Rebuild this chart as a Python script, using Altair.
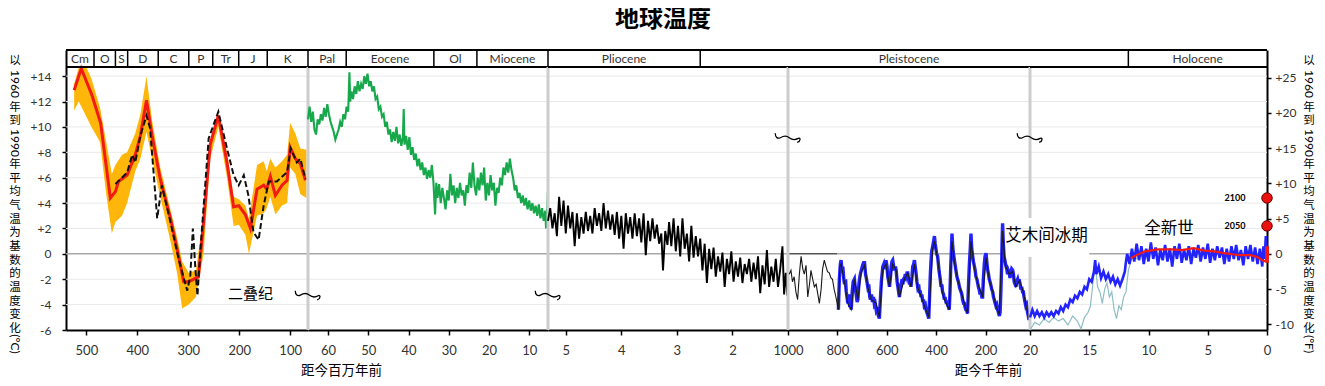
import altair as alt
import pandas as pd

CJK = "Noto Sans CJK SC"
LAT = "Lato"

# ------------------------------------------------------------------ data
# Panel 1 : 540 - 65 million years ago (Ma)
P1_RED_MA = [524, 510, 502, 489, 479, 472, 453, 443, 437, 420, 404, 394, 382, 371, 355, 335, 322, 309, 299,
             280, 270, 257, 241, 224, 211, 201, 188, 178, 165, 152, 146, 139, 129, 116, 106, 100, 90, 80, 70]
P1_RED_T = [12.9, 14.6, 13.8, 12.5, 11.2, 10.3, 4.4, 4.9, 5.7, 6.2, 7.8, 9.3, 12.1, 9.3, 5.9, 2.8, 0.4, -2.2, -2.2,
            -1.8, 2.5, 8.6, 10.9, 7.2, 3.7, 3.8, 3.1, 2.0, 5.1, 5.4, 5.1, 6.1, 4.6, 5.4, 5.8, 8.4, 7.5, 7.1, 5.8]

P1_BAND_MA = [524, 515, 510, 500, 490, 473, 462, 450, 443, 430, 420, 404, 394, 382, 371, 355, 335, 322, 312, 299,
              285, 270, 257, 241, 224, 211, 201, 188, 181, 165, 152, 146, 139, 129, 116, 106, 100, 90, 80, 68]
P1_BAND_HI = [13.4, 14.7, 14.7, 14.7, 13.8, 11.5, 9.0, 6.3, 7.0, 7.8, 8.0, 9.5, 11.0, 14.0, 10.5, 6.8, 3.5, 1.3, -0.6, -1.5,
              -1.3, 3.0, 9.0, 11.0, 8.0, 4.5, 4.3, 3.8, 2.8, 7.0, 7.3, 6.5, 7.5, 6.8, 7.3, 7.8, 10.3, 9.5, 8.3, 8.2]
P1_BAND_LO = [11.3, 12.0, 11.6, 10.8, 10.0, 8.8, 5.0, 1.6, 2.5, 3.0, 4.0, 6.5, 7.5, 9.6, 7.5, 4.5, 1.0, -1.5, -4.3, -4.0,
              -3.4, 0.0, 7.5, 10.0, 6.0, 2.2, 2.3, 1.5, 0.0, 3.0, 3.2, 3.6, 4.5, 3.1, 3.8, 4.0, 6.8, 6.3, 4.7, 4.4]

P1_DASH_MA = [443, 420, 410, 404, 394, 382, 375, 361, 352, 335, 319, 302, 296, 291, 286, 282, 276, 260, 241, 224,
              211, 201, 191, 182, 172, 162, 152, 142, 126, 106, 99, 87, 80, 70]
P1_DASH_T = [5.5, 6.4, 7.8, 7.2, 9.3, 10.9, 9.9, 2.8, 5.4, 2.5, -0.4, -2.9, -1.7, 2.0, -1.2, -3.3, 0.4, 9.1, 11.2, 8.3,
             6.2, 5.4, 6.2, 4.6, 1.7, 1.1, 3.8, 5.7, 5.7, 6.45, 8.3, 7.2, 7.5, 5.9]

# Panel 2 : 65 - 5.3 Ma
P2_GREEN_MA = [65.0, 64.6, 64.2, 63.8, 63.4, 63.0, 62.6, 62.2, 61.8, 61.4,
               61.0, 60.6, 60.2, 59.8, 59.4, 59.0, 58.6, 58.2, 57.8, 57.4,
               57.0, 56.6, 56.2, 55.8, 55.4, 55.0, 54.7, 54.5, 54.2, 53.8,
               53.4, 53.0, 52.6, 52.2, 51.8, 51.4, 51.0, 50.6, 50.2, 49.8,
               49.4, 49.0, 48.6, 48.2, 47.8, 47.4, 47.0, 46.6, 46.2, 45.8,
               45.4, 45.0, 44.6, 44.2, 43.8, 43.4, 43.0, 42.6, 42.2, 41.8,
               41.4, 41.2, 41.0, 40.6, 40.2, 39.8, 39.4, 39.0, 38.6, 38.2,
               37.8, 37.4, 37.0, 36.6, 36.2, 35.8, 35.4, 35.0, 34.6, 34.2,
               33.8, 33.4, 33.1, 32.8, 32.4, 32.0, 31.6, 31.2, 30.8, 30.4,
               30.0, 29.6, 29.2, 28.8, 28.4, 28.0, 27.6, 27.2, 26.8, 26.4,
               26.0, 25.6, 25.2, 24.8, 24.4, 24.0, 23.6, 23.2, 22.8, 22.4,
               22.0, 21.6, 21.2, 20.8, 20.4, 20.0, 19.6, 19.2, 18.8, 18.4,
               18.0, 17.6, 17.2, 16.8, 16.4, 16.0, 15.6, 15.2, 14.8, 14.4,
               14.0, 13.6, 13.2, 12.8, 12.4, 12.0, 11.6, 11.2, 10.8, 10.4,
               10.0, 9.6, 9.2, 8.8, 8.4, 8.0, 7.6, 7.2, 6.8, 6.4,
               6.0, 5.8, 5.5, 5.35]
P2_GREEN_T = [10.6, 11.6, 10.4, 11.2, 9.8, 9.4, 10.6, 10.2, 11.0, 10.5,
              11.5, 10.8, 11.8, 11.0, 10.4, 10.0, 9.6, 9.0, 9.4, 9.8,
              10.4, 10.0, 11.0, 10.6, 11.6, 11.2, 14.3, 12.0, 12.8, 12.2,
              13.2, 12.6, 13.6, 12.8, 13.4, 13.0, 14.0, 13.4, 14.2, 13.2,
              13.6, 12.8, 13.2, 12.2, 12.4, 11.4, 11.6, 10.8, 11.0, 10.0,
              10.4, 9.4, 9.8, 8.8, 9.6, 8.9, 10.0, 8.7, 9.4, 8.5,
              9.2, 11.4, 8.6, 9.3, 8.2, 9.2, 7.8, 8.4, 7.4, 7.9,
              6.9, 7.5, 6.6, 7.2, 6.2, 6.8, 5.9, 6.6, 6.0, 7.0,
              5.6, 3.1, 5.6, 4.4, 5.5, 4.0, 5.2, 4.4, 3.5, 5.0,
              4.2, 6.3, 4.6, 5.4, 4.0, 5.2, 4.4, 5.6, 4.6, 5.0,
              3.8, 5.4, 4.8, 6.4, 5.2, 7.2, 5.4, 4.6, 6.0, 5.0,
              6.4, 5.4, 6.8, 4.2, 5.6, 4.6, 6.2, 5.0, 5.6, 3.8,
              5.2, 4.8, 6.0, 5.4, 6.8, 6.2, 7.2, 6.4, 7.5, 6.6,
              6.0, 5.0, 5.4, 4.4, 4.8, 4.0, 4.6, 3.8, 4.4, 3.5,
              4.2, 3.4, 4.0, 3.2, 3.8, 3.0, 3.9, 2.8, 3.6, 2.6,
              3.4, 2.0, 3.5, 4.9]

# Panel 3 : 5.3 - 1.0 Ma
P3_BLACK_MA = [5.32, 5.28, 5.24, 5.20, 5.16, 5.12, 5.08, 5.04, 5.00, 4.96,
               4.92, 4.88, 4.84, 4.80, 4.76, 4.72, 4.68, 4.64, 4.60, 4.56,
               4.52, 4.48, 4.44, 4.40, 4.36, 4.32, 4.28, 4.24, 4.20, 4.16,
               4.12, 4.08, 4.04, 4.00, 3.96, 3.92, 3.88, 3.84, 3.80, 3.76,
               3.72, 3.68, 3.64, 3.60, 3.56, 3.52, 3.48, 3.44, 3.40, 3.36,
               3.32, 3.28, 3.25, 3.21, 3.17, 3.14, 3.10, 3.06, 3.02, 2.98,
               2.94, 2.90, 2.86, 2.82, 2.78, 2.74, 2.70, 2.66, 2.62, 2.58,
               2.54, 2.50, 2.46, 2.42, 2.38, 2.34, 2.30, 2.26, 2.22, 2.18,
               2.14, 2.10, 2.06, 2.02, 1.98, 1.94, 1.90, 1.86, 1.82, 1.78,
               1.74, 1.70, 1.66, 1.62, 1.58, 1.54, 1.50, 1.46, 1.42, 1.38,
               1.34, 1.30, 1.26, 1.22, 1.18, 1.14, 1.10, 1.07, 1.04, 1.01,
               1.00]
P3_BLACK_T = [2.6, 3.6, 2.0, 3.2, 1.4, 4.5, 2.2, 4.2, 1.6, 3.8,
              2.0, 3.3, 0.6, 3.2, 1.2, 2.9, 1.6, 3.3, 1.8, 3.0,
              1.6, 3.6, 2.2, 3.2, 1.8, 4.0, 2.0, 3.4, 1.9, 3.1,
              1.5, 3.3, 1.2, 3.0, 0.4, 3.2, 1.6, 2.9, 1.2, 3.2,
              1.4, 2.8, 0.9, 3.2, -0.1, 2.6, 1.0, 2.8, 1.2, 2.3,
              0.8, 1.6, -1.3, 1.8, 0.7, 2.5, 0.6, 2.8, 0.2, 2.2,
              -0.2, 2.8, 0.4, 1.6, -0.6, 2.2, -0.3, 1.4, -0.2, 1.2,
              -1.3, 0.8, -2.3, 0.4, -1.2, 0.5, -1.8, -0.2, -1.4, 0.1,
              -2.6, -0.4, -1.6, 0.2, -2.2, -0.6, -1.8, -0.3, -2.3, -0.8,
              -1.6, -0.4, -2.2, -0.7, -2.0, -0.2, -3.1, -0.9, -2.4, 0.3,
              -2.6, -1.0, -2.2, -0.4, -2.6, -1.2, 0.6, -3.2, -1.5, -3.3,
              -0.5]

# Panel 4 : 1000 - 20 thousand years ago (ka)
P4_BLACK_KA = [995, 988, 982, 975, 968, 961, 954, 947, 940, 934, 927, 920, 913, 907, 900,
               893, 886, 873, 866, 860, 853, 846, 840, 833, 826, 820, 813, 806, 800, 796,
               790, 785, 771, 758, 744, 731, 717, 704, 690, 677,
               663, 643, 630, 616, 603, 589, 576, 562, 549, 529,
               515, 502, 488, 475, 461, 448, 430, 414, 407, 394,
               380, 367, 347, 336, 326, 313, 299, 286, 273, 259,
               245, 232, 212, 198, 185, 171, 158, 144, 131, 120,
               104, 90, 77, 63, 47, 36, 23, 20]
P4_BLACK_T = [-1.6, -1.3, -2.2, -1.8, -3.0, -3.6, -1.6, -0.2, -1.2, -1.6, -0.9, -3.4, -2.4, -1.3, -2.0,
              -2.6, -2.4, -3.9, -2.8, -1.2, -0.5, -1.0, -1.4, -1.5, -1.9, -2.0, -2.8, -3.4, -4.0, -4.4,
              -1.0, -0.8, -2.3, -3.9, -4.4, -2.0, -3.6, -1.5, -0.9, -2.6,
              -3.6, -3.9, -5.0, -1.2, -0.8, -2.6, -0.8, -1.3, -3.4, -2.0,
              -1.5, -2.6, -0.8, -2.6, -3.4, -4.1, -5.0, 0.4, 1.0, -0.4,
              -2.6, -3.6, -4.4, 1.0, -0.7, -2.0, -3.0, -3.9, -4.7, 1.0,
              -1.2, -2.3, -3.4, -0.3, -2.0, -3.0, -4.1, -4.8, 1.8, -0.9,
              -1.6, -1.4, -2.6, -2.1, -3.0, -4.1, -5.1, -5.0]

P4_BLUE_KA = [796, 792, 788, 785, 782, 778, 774, 771, 767, 764,
              761, 758, 754, 750, 747, 744, 740, 736, 731, 727,
              724, 720, 717, 713, 709, 706, 702, 698, 694, 690,
              686, 682, 677, 673, 669, 666, 662, 658, 654, 650,
              647, 643, 639, 635, 630, 626, 622, 619, 616, 612,
              608, 603, 599, 596, 592, 589, 585, 582, 579, 576,
              572, 569, 565, 562, 558, 555, 552, 549, 545, 542,
              538, 535, 532, 529, 525, 522, 518, 515, 512, 508,
              505, 502, 498, 495, 491, 488, 485, 481, 478, 475,
              471, 468, 464, 461, 458, 454, 451, 448, 444, 441,
              438, 434, 430, 427, 424, 421, 418, 414, 411, 407,
              404, 401, 398, 394, 391, 388, 384, 380, 377, 374,
              370, 367, 364, 360, 357, 354, 350, 347, 344, 341,
              338, 336, 333, 330, 326, 323, 320, 316, 313, 310,
              306, 303, 299, 296, 293, 289, 286, 283, 280, 276,
              273, 270, 266, 262, 259, 256, 252, 249, 245, 242,
              239, 235, 232, 229, 225, 222, 219, 215, 212, 209,
              205, 202, 198, 195, 192, 188, 185, 182, 178, 175,
              171, 168, 165, 161, 158, 155, 151, 148, 144, 141,
              138, 135, 133, 131, 128, 125, 122, 120, 117, 114,
              111, 108, 104, 101, 98, 94, 90, 87, 84, 80,
              77, 74, 70, 67, 64, 60, 57, 54, 50, 47,
              44, 40, 37, 34, 30, 27, 24, 22, 20]
P4_BLUE_T = [-4.4, -2.0, -0.8, -0.5, -1.2, -1.0, -2.0, -2.4, -2.0, -3.0,
             -3.4, -3.9, -3.2, -4.2, -3.8, -4.4, -3.0, -2.2, -2.0, -2.8,
             -3.2, -3.8, -3.6, -2.4, -1.8, -1.5, -1.2, -0.9, -0.7, -0.7,
             -1.6, -2.0, -2.6, -2.4, -3.4, -3.6, -3.2, -3.8, -3.4, -4.0,
             -3.9, -4.4, -4.2, -4.8, -5.1, -3.6, -2.2, -1.6, -1.0, -0.8,
             -1.2, -0.5, -1.0, -1.8, -2.2, -2.6, -1.8, -1.0, -0.6, -0.5,
             -1.0, -1.3, -1.0, -1.3, -2.2, -2.6, -3.0, -3.4, -2.8, -2.4,
             -2.0, -2.4, -2.0, -2.0, -1.6, -1.8, -1.5, -1.5, -2.0, -2.4,
             -2.2, -2.6, -1.8, -1.0, -0.8, -0.5, -1.0, -1.6, -2.2, -2.6,
             -2.4, -3.0, -3.0, -3.4, -3.2, -3.8, -3.6, -4.1, -4.0, -4.4,
             -4.6, -4.8, -5.1, -3.6, -1.8, -0.6, 0.2, 0.6, 0.9, 1.4,
             0.8, 0.4, 0.0, -0.2, -0.8, -1.4, -1.9, -2.6, -2.4, -3.0,
             -3.2, -3.6, -3.4, -3.8, -3.8, -4.0, -4.2, -4.4, -3.0, -1.0,
             0.4, 1.6, 0.6, 0.0, -0.5, -0.9, -1.3, -1.8, -2.0, -2.2,
             -2.6, -2.8, -3.0, -3.2, -3.6, -3.9, -3.9, -4.2, -4.4, -4.5,
             -4.7, -3.0, -1.0, 0.4, 1.6, 0.4, -0.2, -0.6, -1.0, -1.3,
             -1.8, -2.0, -2.3, -2.6, -2.9, -3.2, -3.0, -3.4, -3.4, -2.0,
             -0.8, -0.2, 0.05, -0.6, -1.2, -1.6, -2.0, -2.2, -2.5, -2.8,
             -3.0, -3.4, -3.6, -3.9, -4.1, -4.0, -4.4, -4.6, -4.9, -4.6,
             -3.0, -1.0, 1.0, 2.4, 0.8, -0.2, -0.5, -0.7, -1.0, -1.2,
             -1.6, -1.3, -1.5, -1.9, -1.6, -1.2, -1.3, -1.6, -2.2, -2.4,
             -2.6, -2.2, -2.0, -2.3, -2.0, -2.4, -2.8, -2.6, -3.0, -3.0,
             -3.4, -3.8, -4.1, -4.0, -4.6, -4.9, -5.2, -5.0, -5.0]

# Panel 5 : 20 - 0 ka
P5_BLUE_KA = [20.0, 19.8, 19.6, 19.4, 19.2, 19.0, 18.8, 18.6, 18.4, 18.2,
              18.0, 17.8, 17.6, 17.4, 17.2, 17.0, 16.8, 16.6, 16.4, 16.2,
              16.0, 15.8, 15.6, 15.4, 15.2, 15.0, 14.8, 14.6, 14.5, 14.4,
              14.2, 14.0, 13.8, 13.6, 13.4, 13.2, 13.0, 12.8, 12.6, 12.4,
              12.2, 12.0, 11.9, 11.8, 11.6, 11.4, 11.2, 11.0, 10.8, 10.6,
              10.4, 10.2, 10.0, 9.8, 9.6, 9.4, 9.2, 9.0, 8.8, 8.6,
              8.4, 8.2, 8.0, 7.8, 7.6, 7.4, 7.2, 7.0, 6.8, 6.6,
              6.4, 6.2, 6.0, 5.8, 5.6, 5.4, 5.2, 5.0, 4.8, 4.6,
              4.4, 4.2, 4.0, 3.8, 3.6, 3.4, 3.2, 3.0, 2.8, 2.6,
              2.4, 2.2, 2.0, 1.8, 1.6, 1.4, 1.2, 1.0, 0.8, 0.6,
              0.4, 0.3, 0.2, 0.1, 0.0]
P5_BLUE_T = [-5.0, -4.4, -4.9, -4.5, -4.9, -4.6, -5.0, -4.6, -4.9, -4.6,
             -4.9, -4.5, -4.7, -4.2, -4.5, -4.0, -4.2, -3.6, -3.8, -3.3,
             -3.5, -3.0, -3.2, -2.6, -2.8, -2.0, -2.2, -1.4, -0.5, -1.6,
             -1.0, -1.9, -1.4, -2.0, -1.6, -2.2, -1.8, -2.4, -2.0, -2.5,
             -2.0, -1.4, -0.6, 0.0, -0.8, 0.4, -0.6, 0.8, -0.5, 0.6,
             -0.8, 0.4, -0.6, 0.9, -0.4, 0.5, -0.9, 0.3, -0.5, 0.7,
             -0.6, 0.4, -1.0, 0.6, -0.4, 0.8, -0.7, 0.3, -0.5, 0.6,
             -0.8, 0.4, -0.3, 0.7, -0.6, 0.5, -0.4, 0.8, -0.7, 0.4,
             -0.5, 0.6, -0.3, 0.5, -0.8, 0.4, -0.6, 0.6, -0.4, 0.7,
             -0.5, 0.3, -0.9, 0.6, -0.4, 0.7, -0.6, 0.5, -0.8, 0.4,
             -1.0, 0.6, -0.4, 1.4, -0.2]

P5_TEAL_KA = [20.0, 19.6, 19.2, 18.8, 18.4, 18.0, 17.6, 17.2, 16.8, 16.4,
              16.0, 15.7, 15.4, 15.1, 14.9, 14.7, 14.5, 14.3, 14.1, 13.9,
              13.7, 13.5, 13.3, 13.1, 12.9, 12.7, 12.5, 12.3, 12.1, 11.9,
              11.7, 11.5, 11.2, 11.0, 10.7, 10.3]
P5_TEAL_T = [-6.0, -5.4, -5.6, -5.1, -5.4, -5.0, -5.3, -5.1, -5.6, -4.9,
             -5.3, -5.9, -5.0, -4.6, -4.1, -2.4, -0.6, -2.6, -3.0, -3.9,
             -2.8, -2.3, -3.4, -3.0, -4.4, -5.1, -4.1, -4.4, -3.4, -3.0,
             -1.3, -0.6, 0.05, -0.4, -0.2, -0.1]

P5_RED_KA = [11.5, 11.0, 10.3, 9.2, 8.0, 7.2, 6.2, 5.3, 4.4, 3.6, 2.8, 2.2, 1.4, 0.8, 0.4, 0.1]
P5_RED_T = [-0.35, -0.1, 0.2, 0.35, 0.35, 0.3, 0.45, 0.25, 0.2, 0.05, -0.05, -0.1, -0.1, -0.25, -0.5, -0.6]
MODERN_RANGE = [-0.7, 0.6]

PROJ_YEARS = ["2050", "2100"]
PROJ_T = [2.2, 4.4]

# geological time divisions
P1_NAMES = ["Cm", "O", "S", "D", "C", "P", "Tr", "J", "K"]
P1_EDGES = [540, 485, 443, 419, 359, 299, 252, 201, 145, 65]
P2_NAMES = ["Pal", "Eocene", "Ol", "Miocene"]
P2_EDGES = [65, 55.5, 33.7, 23, 5.32]
P3_NAMES = ["Pliocene"]
P3_EDGES = [5.32, 2.58]
P4_NAMES = ["Pleistocene"]
P5_NAMES = ["Holocene"]
P5_EDGES = [11.7, 0]

# ------------------------------------------------------------------ layout / style
Y_MIN, Y_MAX = -6.0, 16.06
HDR_LO = 14.72
HDR_MID = (HDR_LO + Y_MAX) / 2
H = 280
TOP_ABS = 50
Y_TICKS = list(range(-6, 15, 2))
GRID_VALUES = [-4, -2, 2, 4, 6, 8, 10, 12, 14]
F_TICKS = [-10, -5, 0, 5, 10, 15, 20, 25]

GRID_C = "#e9e9e9"
ZERO_C = "#a8a8a8"
SEP_C = "#cdcdcd"
BREAK_PATH = ("M-1,-0.3 C-1,0.05 -0.8,0.15 -0.6,0.05 C-0.35,-0.1 -0.1,-0.12 0.1,0.05 "
              "C0.35,0.25 0.6,0.22 0.8,0.1 C1,0 1,0.35 0.72,0.42")

AXIS_COMMON = dict(domainColor="black", domainWidth=2, tickColor="black", tickWidth=1.5,
                   labelFont=LAT, labelColor="#333333", grid=False)


def x_axis(values, title="", tx=0):
    kw = dict(AXIS_COMMON, values=values, format="d", tickSize=5, labelFontSize=13, labelPadding=9,
              labelFlush=False, labelOverlap=False)
    if title:
        kw.update(title=title, titleFont=CJK, titleFontSize=13.5, titleFontWeight="normal",
                  titleColor="black", titleX=tx, titleY=40, titleAlign="center", titleBaseline="middle")
    else:
        kw["title"] = None
    return alt.Axis(**kw)


Y_LEFT = alt.Axis(values=Y_TICKS, title=None, tickSize=4, labelFontSize=12, labelPadding=11,
                  labelExpr="datum.value > 0 ? '+' + datum.value : '' + datum.value", **AXIS_COMMON)
Y_RIGHT = alt.Axis(orient="right", values=[f / 1.8 for f in F_TICKS], title=None, tickSize=4,
                   labelFontSize=12, labelPadding=4,
                   labelExpr="(round(datum.value*1.8) > 0 ? '+' : '') + round(datum.value*1.8)",
                   **AXIS_COMMON)


class Panel:
    def __init__(self, lo, hi, width, xaxis, yaxis):
        self.lo, self.hi, self.width = lo, hi, width
        self.xaxis, self.yaxis = xaxis, yaxis
        self.layers = []

    def X(self, f):
        return alt.X(f, type="quantitative",
                     scale=alt.Scale(domain=[self.lo, self.hi], reverse=True, nice=False, zero=False),
                     axis=self.xaxis)

    def Y(self, f):
        return alt.Y(f, type="quantitative",
                     scale=alt.Scale(domain=[Y_MIN, Y_MAX], nice=False, zero=False),
                     axis=self.yaxis)

    def add(self, c):
        self.layers.append(c)

    def chart(self):
        return alt.layer(*self.layers).properties(width=self.width, height=H)


def grid(P):
    P.add(alt.Chart(pd.DataFrame({"g": GRID_VALUES})).mark_rule(color=GRID_C, strokeWidth=1)
          .encode(y=P.Y("g")))


def zero_full(P):
    P.add(alt.Chart(pd.DataFrame({"z": [0]})).mark_rule(color=ZERO_C, strokeWidth=1.5)
          .encode(y=P.Y("z")))


def zero_seg(P, a, b, color):
    P.add(alt.Chart(pd.DataFrame({"a": [a], "b": [b], "z": [0]})).mark_rule(color=color, strokeWidth=1.5)
          .encode(x=P.X("a"), x2="b", y=P.Y("z")))


def separator(P, segments):
    df = pd.DataFrame({"t": [P.hi] * len(segments), "y1": [s[0] for s in segments],
                       "y2": [s[1] for s in segments]})
    P.add(alt.Chart(df).mark_rule(color=SEP_C, strokeWidth=3)
          .encode(x=P.X("t"), y=P.Y("y1"), y2="y2"))


def break_mark(P, level):
    P.add(alt.Chart(pd.DataFrame({"t": [P.hi], "v": [level]}))
          .mark_point(shape=BREAK_PATH, size=650, filled=False, color="black", strokeWidth=1.3, opacity=1)
          .encode(x=P.X("t"), y=P.Y("v")))


def line(P, xs, ys, **kw):
    P.add(alt.Chart(pd.DataFrame({"t": xs, "v": ys})).mark_line(**kw)
          .encode(x=P.X("t"), y=P.Y("v")))


def header(P, names, centers, dividers):
    P.add(alt.Chart(pd.DataFrame({"h": [Y_MAX, HDR_LO]})).mark_rule(color="black", strokeWidth=2)
          .encode(y=P.Y("h")))
    if dividers:
        P.add(alt.Chart(pd.DataFrame({"d": dividers, "a": [HDR_LO] * len(dividers),
                                      "b": [Y_MAX] * len(dividers)}))
              .mark_rule(color="black", strokeWidth=1.5)
              .encode(x=P.X("d"), y=P.Y("a"), y2="b"))
    P.add(alt.Chart(pd.DataFrame({"n": names, "c": centers, "m": [HDR_MID] * len(names)}))
          .mark_text(font=LAT, fontSize=12, color="#333333", baseline="middle")
          .encode(x=P.X("c"), y=P.Y("m"), text="n:N"))


def annotate(P, txt, xv, yv, size):
    P.add(alt.Chart(pd.DataFrame({"s": [txt], "t": [xv], "v": [yv]}))
          .mark_text(font=CJK, fontSize=size, color="black", baseline="middle")
          .encode(x=P.X("t"), y=P.Y("v"), text="s:N"))


def vtitle(P, xpx, unit):
    # vertical writing: runs of upright CJK characters (one text block each) and sideways Latin groups
    runs = [("以", 61, 61), ("年到", 108, 121), ("年平均气温为基数的温度变化", 165, 329)]
    sideways = [("1960", 84), ("1990", 143), ("(°" + unit + ")", 344)]
    dummy = pd.DataFrame({"k": [0]})
    for txt, y0, y1 in runs:
        chars = list(txt)
        lh = (y1 - y0) / (len(chars) - 1) if len(chars) > 1 else 13
        # first line is anchored at y; following lines step down by lineHeight
        P.add(alt.Chart(dummy)
              .mark_text(text=chars, lineHeight=lh, font=CJK, fontSize=11.5, color="black",
                         align="center", baseline="middle")
              .encode(x=alt.value(xpx), y=alt.value(y0 - TOP_ABS)))
    for txt, yc in sideways:
        P.add(alt.Chart(pd.DataFrame({"s": [txt]}))
              .mark_text(font=LAT, fontSize=12, color="black", angle=90, align="center", baseline="middle")
              .encode(x=alt.value(xpx), y=alt.value(yc - TOP_ABS), text="s:N"))


def mids(edges):
    return [(edges[i] + edges[i + 1]) / 2 for i in range(len(edges) - 1)]


# ------------------------------------------------------------------ panel 1
p1 = Panel(65, 540, 242, x_axis([500, 400, 300, 200, 100]), Y_LEFT)
grid(p1)
zero_full(p1)
p1.add(alt.Chart(pd.DataFrame({"t": P1_BAND_MA, "hi": P1_BAND_HI, "lo": P1_BAND_LO}))
       .mark_area(color="#FFB60A", opacity=1).encode(x=p1.X("t"), y=p1.Y("hi"), y2="lo"))
line(p1, P1_RED_MA, P1_RED_T, color="#F21A12", strokeWidth=3)
line(p1, P1_DASH_MA, P1_DASH_T, color="#111111", strokeWidth=2, strokeDash=[6, 3])
annotate(p1, "二叠纪", 178, -3.15, 15)
header(p1, P1_NAMES, mids(P1_EDGES), P1_EDGES[1:-1])
vtitle(p1, -51, "C")

# ------------------------------------------------------------------ panel 2
p2 = Panel(5.32, 65, 240, x_axis([60, 50, 40, 30, 20, 10], "距今百万年前", 33), None)
grid(p2)
zero_full(p2)
separator(p2, [(Y_MIN, HDR_LO)])
line(p2, P2_GREEN_MA, P2_GREEN_T, color="#17A84C", strokeWidth=2.1)
break_mark(p2, -3.2)
header(p2, P2_NAMES, mids(P2_EDGES), P2_EDGES[:-1])

# ------------------------------------------------------------------ panel 3
p3 = Panel(1.0, 5.32, 240, x_axis([5, 4, 3, 2]), None)
grid(p3)
zero_full(p3)
separator(p3, [(Y_MIN, HDR_LO)])
line(p3, P3_BLACK_MA, P3_BLACK_T, color="#000000", strokeWidth=1.9)
break_mark(p3, -3.2)
header(p3, P3_NAMES, mids(P3_EDGES), P3_EDGES)

# ------------------------------------------------------------------ panel 4
p4 = Panel(20, 1000, 242, x_axis([1000, 800, 600, 400, 200, 20], "距今千年前", 200), None)
grid(p4)
zero_seg(p4, 1000, 800, "#555555")
zero_seg(p4, 800, 125, ZERO_C)
separator(p4, [(Y_MIN, HDR_LO)])
line(p4, P4_BLUE_KA, P4_BLUE_T, color="#2323FF", strokeWidth=3.4)
line(p4, P4_BLACK_KA, P4_BLACK_T, color="#1a1a1a", strokeWidth=1.1)
break_mark(p4, 9.2)
header(p4, P4_NAMES, [510], [])

# ------------------------------------------------------------------ panel 5
p5 = Panel(0, 20, 237, x_axis([15, 10, 5, 0]), Y_RIGHT)
grid(p5)
zero_seg(p5, 15, 0, ZERO_C)
separator(p5, [(Y_MIN, -0.24), (2.83, HDR_LO)])
line(p5, P5_TEAL_KA, P5_TEAL_T, color="#8DBEC6", strokeWidth=1.2)
line(p5, P5_BLUE_KA, P5_BLUE_T, color="#2323FF", strokeWidth=2.6)
line(p5, P5_RED_KA, P5_RED_T, color="#F21A12", strokeWidth=2.2)
p5.add(alt.Chart(pd.DataFrame({"t": [0], "a": [MODERN_RANGE[0]], "b": [MODERN_RANGE[1]]}))
       .mark_rule(color="#F21A12", strokeWidth=4).encode(x=p5.X("t"), y=p5.Y("a"), y2="b"))
p5.add(alt.Chart(pd.DataFrame({"t": [0, 0], "v": PROJ_T, "yr": PROJ_YEARS}))
       .mark_circle(size=110, color="#E8110F", stroke="#6a0000", strokeWidth=1, opacity=1)
       .encode(x=p5.X("t"), y=p5.Y("v")))
p5.add(alt.Chart(pd.DataFrame({"t": [0, 0], "v": PROJ_T, "yr": PROJ_YEARS}))
       .mark_text(font=LAT, fontSize=9, fontWeight="bold", color="black", dx=-32, baseline="middle")
       .encode(x=p5.X("t"), y=p5.Y("v"), text="yr:N"))
break_mark(p5, 9.2)
annotate(p5, "艾木间冰期", 18.6, 1.42, 16.5)
annotate(p5, "全新世", 8.27, 1.97, 16.5)
header(p5, P5_NAMES, mids(P5_EDGES), P5_EDGES[:-1])
vtitle(p5, 237 + 42, "F")
# invisible spacer so the drawing area fully contains the right-hand title
p5.add(alt.Chart(pd.DataFrame({"k": [0]})).mark_rule(opacity=0, strokeWidth=1)
       .encode(x=alt.value(237 + 50), y=alt.value(20), y2=alt.value(40)))

# ------------------------------------------------------------------ assemble
chart = (
    alt.hconcat(p1.chart(), p2.chart(), p3.chart(), p4.chart(), p5.chart(), spacing=0, bounds="flush")
    .properties(
        title=alt.TitleParams("地球温度", font=CJK, fontSize=24, fontWeight="bold", color="black",
                              anchor="middle", offset=17),
        padding=0,
    )
    .configure_view(stroke=None)
)

chart.save("out.html", embed_options={"renderer": "svg", "actions": False})
